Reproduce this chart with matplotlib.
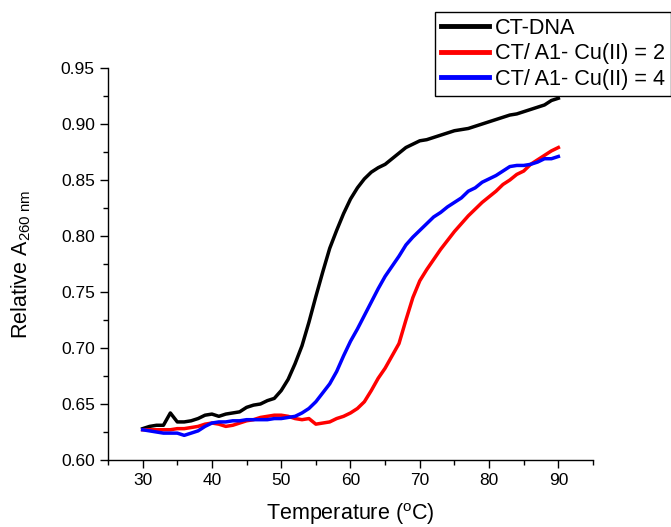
import numpy as np
import matplotlib
matplotlib.use("Agg")
import matplotlib.pyplot as plt
from matplotlib.ticker import MultipleLocator, FormatStrFormatter

plt.rcParams['font.family'] = ['Liberation Sans', 'DejaVu Sans']
plt.rcParams['mathtext.fontset'] = 'custom'
plt.rcParams['mathtext.rm'] = 'Liberation Sans'
plt.rcParams['mathtext.it'] = 'Liberation Sans:italic'

temperature = list(range(30, 91))

ct_dna = [
    0.628, 0.630, 0.631, 0.631, 0.642, 0.634, 0.634, 0.635, 0.637, 0.640,
    0.641, 0.639, 0.641, 0.642, 0.643, 0.647, 0.649, 0.650, 0.653, 0.655,
    0.662, 0.672, 0.686, 0.702, 0.723, 0.746, 0.768, 0.789, 0.805, 0.820,
    0.833, 0.843, 0.851, 0.857, 0.861, 0.864, 0.869, 0.874, 0.879, 0.882,
    0.885, 0.886, 0.888, 0.890, 0.892, 0.894, 0.895, 0.896, 0.898, 0.900,
    0.902, 0.904, 0.906, 0.908, 0.909, 0.911, 0.913, 0.915, 0.917, 0.921,
    0.923,
]

ratio_2 = [
    0.627, 0.627, 0.627, 0.627, 0.627, 0.628, 0.628, 0.629, 0.630, 0.632,
    0.633, 0.632, 0.630, 0.631, 0.633, 0.635, 0.636, 0.638, 0.639, 0.640,
    0.640, 0.639, 0.637, 0.636, 0.637, 0.632, 0.633, 0.634, 0.637, 0.639,
    0.642, 0.646, 0.652, 0.662, 0.673, 0.682, 0.693, 0.704, 0.725, 0.745,
    0.760, 0.770, 0.779, 0.788, 0.796, 0.804, 0.811, 0.818, 0.824, 0.830,
    0.835, 0.840, 0.846, 0.850, 0.855, 0.858, 0.864, 0.868, 0.872, 0.876,
    0.879,
]

ratio_4 = [
    0.627, 0.626, 0.625, 0.624, 0.624, 0.624, 0.622, 0.624, 0.626, 0.630,
    0.633, 0.634, 0.634, 0.635, 0.635, 0.636, 0.636, 0.636, 0.636, 0.637,
    0.637, 0.638, 0.639, 0.642, 0.646, 0.652, 0.660, 0.668, 0.679, 0.693,
    0.706, 0.717, 0.729, 0.741, 0.753, 0.764, 0.773, 0.782, 0.792, 0.799,
    0.805, 0.811, 0.817, 0.821, 0.826, 0.830, 0.834, 0.840, 0.843, 0.848,
    0.851, 0.854, 0.858, 0.862, 0.863, 0.863, 0.864, 0.866, 0.869, 0.869,
    0.871,
]

labels = ["CT-DNA", "CT/ A1- Cu(II) = 2", "CT/ A1- Cu(II) = 4"]
colors = ["black", "#ff0000", "#0000ff"]

fig = plt.figure(figsize=(6.71, 5.27), dpi=100)
ax = fig.add_axes([108 / 671, 1 - 460 / 527, (593 - 108) / 671, (460 - 68) / 527])

for series, label, color in zip([ct_dna, ratio_2, ratio_4], labels, colors):
    ax.plot(temperature, series, color=color, lw=2.5, label=label)

ax.set_xticks([30, 40, 50, 60, 70, 80, 90])
ax.xaxis.set_minor_locator(MultipleLocator(5))
ax.yaxis.set_major_locator(MultipleLocator(0.05))
ax.yaxis.set_minor_locator(MultipleLocator(0.025))
ax.yaxis.set_major_formatter(FormatStrFormatter('%.2f'))
ax.set_xlim(25, 95)
ax.set_ylim(0.60, 0.95)

for side in ("top", "right"):
    ax.spines[side].set_visible(False)
for side in ("left", "bottom"):
    ax.spines[side].set_linewidth(1.0)

ax.tick_params(which="major", direction="out", length=6, width=1.0, labelsize=12.5)
ax.tick_params(which="minor", direction="out", length=3.5, width=1.0)

ax.set_xlabel(r"Temperature ($^{\mathregular{o}}$C)", fontsize=15.5, labelpad=9.5)
ax.set_ylabel(r"Relative A$_{\mathregular{260\ nm}}$", fontsize=15.5, labelpad=20)

leg = fig.legend(
    loc="upper left",
    bbox_to_anchor=(435 / 671, 1 - 12 / 527),
    bbox_transform=fig.transFigure,
    fontsize=15.6,
    frameon=True,
    fancybox=False,
    edgecolor="black",
    framealpha=1,
    borderpad=0.28,
    labelspacing=0.2,
    handlelength=2.2,
    handletextpad=0.3,
    borderaxespad=0,
)
leg.get_frame().set_linewidth(1.0)
for line in leg.get_lines():
    line.set_linewidth(3.5)

fig.savefig("out.png", dpi=100)
